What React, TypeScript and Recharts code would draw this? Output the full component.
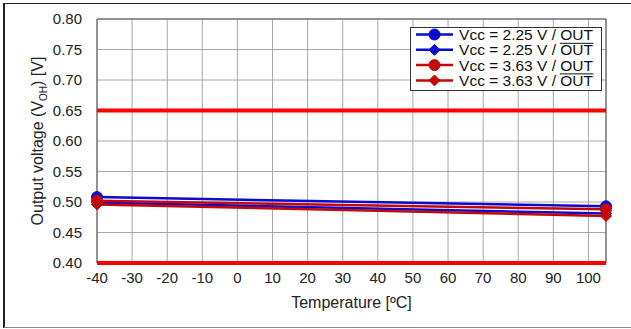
import React from "react"
import {
  LineChart,
  Line,
  XAxis,
  YAxis,
  CartesianGrid,
  ReferenceLine,
  ReferenceArea,
} from "recharts"

// temperature points (°C) and measured output voltage (V)
const temps = [-40, 105]
const vcc225Out = [0.508, 0.493]
const vcc225OutBar = [0.499, 0.481]
const vcc363Out = [0.502, 0.488]
const vcc363OutBar = [0.496, 0.477]

const xTicks = [-40, -30, -20, -10, 0, 10, 20, 30, 40, 50, 60, 70, 80, 90, 100]
const yTicks = [0.4, 0.45, 0.5, 0.55, 0.6, 0.65, 0.7, 0.75, 0.8]
const limitLevels = [0.65, 0.4]

const BLUE = "#0a0ad2"
const RED = "#c40808"
const FONT = "'Liberation Sans', Arial, sans-serif"

const data = temps.map((t, i) => ({
  t,
  a: vcc225Out[i],
  b: vcc225OutBar[i],
  c: vcc363Out[i],
  d: vcc363OutBar[i],
}))

const series = [
  { key: "a", color: BLUE, shape: "circle", vcc: "2.25", bar: false },
  { key: "b", color: BLUE, shape: "diamond", vcc: "2.25", bar: true },
  { key: "c", color: RED, shape: "circle", vcc: "3.63", bar: false },
  { key: "d", color: RED, shape: "diamond", vcc: "3.63", bar: true },
]

const Marker = ({ cx, cy, color, shape }: any) => {
  if (cx == null || cy == null) return null
  if (shape === "circle") return <circle cx={cx} cy={cy} r={5.5} fill={color} stroke={color} />
  const s = 5.5
  return (
    <polygon
      points={`${cx},${cy - s} ${cx + s},${cy} ${cx},${cy + s} ${cx - s},${cy}`}
      fill={color}
      stroke={color}
    />
  )
}

// legend drawn straight into the svg so the overline on OUT can be a real line
const LegendBox = () => {
  const textEnd = 593
  const fs = 15.5
  const outW = 32.7
  return (
    <g>
      <rect x={410.5} y={27.5} width={191} height={63} fill="#fff" stroke="#333" />
      {series.map((s, i) => {
        const cy = 34.5 + i * 15.3
        return (
          <g key={s.key}>
            <line x1={416} y1={cy} x2={453} y2={cy} stroke={s.color} strokeWidth={2.5} />
            <Marker cx={434.5} cy={cy} color={s.color} shape={s.shape} />
            <text
              x={textEnd}
              y={cy + 5.4}
              textAnchor="end"
              fontFamily={FONT}
              fontSize={fs}
              fill="#111"
            >
              {`Vcc = ${s.vcc} V / OUT`}
            </text>
            {s.bar && (
              <line
                x1={textEnd - outW - 0.5}
                x2={textEnd + 0.5}
                y1={cy - 6.5}
                y2={cy - 6.5}
                stroke="#111"
                strokeWidth={1}
              />
            )}
          </g>
        )
      })}
    </g>
  )
}

export default function App() {
  return (
    <div style={{ position: "absolute", left: 0, top: 0, width: 631, height: 329, background: "#fff" }}>
      <div
        style={{
          position: "absolute",
          left: 3,
          top: 3,
          width: 640,
          height: 323,
          borderTop: "1px solid #222",
          borderLeft: "2px solid #222",
          borderBottom: "1px solid #888",
        }}
      />
      <LineChart
        width={631}
        height={329}
        data={data}
        margin={{ top: 19, right: 25, bottom: 36, left: 37 }}
        style={{ position: "absolute", left: 0, top: 0 }}
      >
        <CartesianGrid stroke="#a8a8a8" strokeWidth={1} />
        <XAxis
          dataKey="t"
          type="number"
          domain={[-40, 105]}
          ticks={xTicks}
          height={30}
          tickLine={false}
          axisLine={false}
          tickSize={0}
          tickMargin={9}
          tick={{ fill: "#222", fontSize: 15, fontFamily: FONT }}
          interval={0}
        />
        <YAxis
          type="number"
          domain={[0.4, 0.8]}
          ticks={yTicks}
          width={60}
          tickLine={false}
          axisLine={false}
          tickSize={0}
          tickMargin={15}
          tick={{ fill: "#222", fontSize: 15, fontFamily: FONT }}
          tickFormatter={(v: number) => v.toFixed(2)}
          interval={0}
        />
        <ReferenceArea x1={-40} x2={105} y1={0.4} y2={0.8} fill="none" stroke="#555" strokeWidth={1} />
        {limitLevels.map((v) => (
          <ReferenceLine key={v} y={v} stroke="#ff0000" strokeWidth={4} />
        ))}
        {series.map((s) => (
          <Line
            key={s.key}
            dataKey={s.key}
            stroke={s.color}
            strokeWidth={2.5}
            dot={(p: any) => <Marker key={`${s.key}-${p.index}`} cx={p.cx} cy={p.cy} color={s.color} shape={s.shape} />}
            activeDot={false}
            isAnimationActive={false}
          />
        ))}
        <text
          x={351.5}
          y={308}
          textAnchor="middle"
          fontFamily={FONT}
          fontSize={16}
          fill="#222"
        >
          Temperature [ºC]
        </text>
        <text
          transform="translate(43,141) rotate(-90)"
          textAnchor="middle"
          fontFamily={FONT}
          fontSize={16}
          fill="#222"
        >
          Output voltage (V
          <tspan fontSize={10} dy={4}>OH</tspan>
          <tspan dy={-4}>) [V]</tspan>
        </text>
        <LegendBox />
      </LineChart>
    </div>
  )
}
